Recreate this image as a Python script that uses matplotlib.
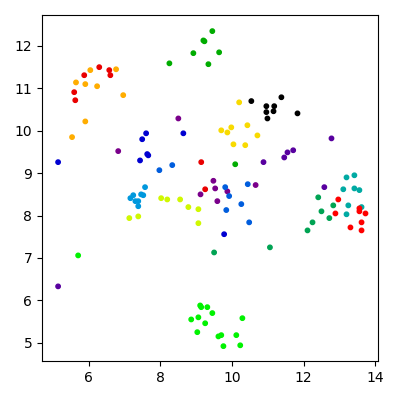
import matplotlib
matplotlib.use('Agg')
import matplotlib.pyplot as plt
import numpy as np

# cluster points
x = [
    # 0 black
    10.54, 10.96, 11.18, 10.96, 11.16, 10.99, 11.38, 11.83,
    # 1 purple
    8.50, 6.82, 9.48, 9.53, 9.87, 9.12, 9.59, 10.66,
    # 2 indigo
    12.78, 11.71, 11.55, 11.46, 10.88, 12.58, 5.14,
    # 3 dark blue
    7.60, 7.49, 8.64, 7.63, 7.66, 7.43, 5.14, 9.78,
    # 4 blue
    8.33, 7.97, 9.81, 9.92, 9.84, 10.26, 10.44, 10.48,
    # 5 light blue
    7.57, 7.24, 7.16, 7.46, 7.52, 7.30, 7.38, 7.38,
    # 6 teal
    13.20, 13.42, 13.11, 13.42, 13.56, 13.25, 13.62, 13.20,
    # 7 teal green
    12.41, 12.83, 12.50, 12.72, 12.25, 12.11, 9.50, 11.06,
    # 8 green
    9.45, 9.20, 9.23, 8.92, 9.64, 9.34, 8.25, 10.09,
    # 9 bright green
    5.70, 9.11, 9.14, 9.31, 9.45, 8.86, 9.06, 9.25, 10.29, 9.03, 9.62, 9.70, 10.12, 9.76, 10.23,
    # 10 yellow green
    8.02, 8.19, 8.55, 8.78, 9.06, 9.06, 7.13, 7.38,
    # 11 yellow
    10.20, 9.70, 9.87, 9.98, 10.43, 10.71, 10.04, 10.37,
    # 12 orange
    6.04, 6.76, 5.64, 5.90, 6.23, 6.96, 5.90, 5.53,
    # 13 red (left)
    6.29, 6.57, 6.60, 5.87, 5.59, 5.62, 9.14, 9.25,
    # 14 red (right)
    12.97, 12.89, 13.56, 13.56, 13.73, 13.62, 13.31, 13.62,
]
y = [
    10.70, 10.58, 10.58, 10.44, 10.46, 10.29, 10.79, 10.41,
    10.29, 9.52, 8.82, 8.64, 8.57, 8.50, 8.34, 8.72,
    9.82, 9.54, 9.49, 9.37, 9.26, 8.67, 6.33,
    9.94, 9.80, 9.94, 9.45, 9.42, 9.30, 9.26, 7.56,
    9.19, 9.07, 8.67, 8.46, 8.13, 8.27, 8.74, 7.84,
    8.67, 8.48, 8.41, 8.50, 8.48, 8.34, 8.34, 8.22,
    8.90, 8.95, 8.62, 8.64, 8.60, 8.24, 8.20, 8.03,
    8.43, 8.24, 8.10, 7.94, 7.84, 7.65, 7.13, 7.25,
    12.35, 12.13, 12.11, 11.83, 11.85, 11.57, 11.59, 9.21,
    7.06, 5.88, 5.84, 5.84, 5.70, 5.55, 5.60, 5.46, 5.58, 5.25, 5.15, 5.18, 5.18, 4.92, 4.94,
    8.41, 8.38, 8.38, 8.20, 8.15, 7.82, 7.94, 7.98,
    10.67, 10.01, 9.96, 10.08, 10.13, 9.89, 9.68, 9.66,
    11.43, 11.45, 11.14, 11.10, 11.05, 10.84, 10.22, 9.85,
    11.50, 11.43, 11.31, 11.31, 10.91, 10.72, 9.26, 8.62,
    8.38, 8.05, 8.17, 8.10, 8.05, 7.84, 7.72, 7.65,
]
counts = [8, 8, 7, 8, 8, 8, 8, 8, 8, 15, 8, 8, 8, 8, 8]
labels = np.repeat(np.arange(len(counts)), counts)

# position of each cluster on the nipy_spectral colormap
shade = np.array([0.0, 0.06, 0.12, 0.19, 0.24, 0.30, 0.36, 0.42, 0.48,
                  0.58, 0.67, 0.73, 0.78, 0.88, 0.85])

fig, ax = plt.subplots(figsize=(4, 4), dpi=100)
colors = plt.cm.nipy_spectral(shade[labels])
ax.scatter(x, y, c=colors, s=10)

ax.set_xlim(4.69, 14.08)
ax.set_ylim(4.57, 12.73)
ax.set_xticks([6, 8, 10, 12, 14])
ax.set_yticks([5, 6, 7, 8, 9, 10, 11, 12])

fig.subplots_adjust(left=0.105, right=0.945, top=0.9625, bottom=0.0975)
plt.savefig('out.png', dpi=100)
